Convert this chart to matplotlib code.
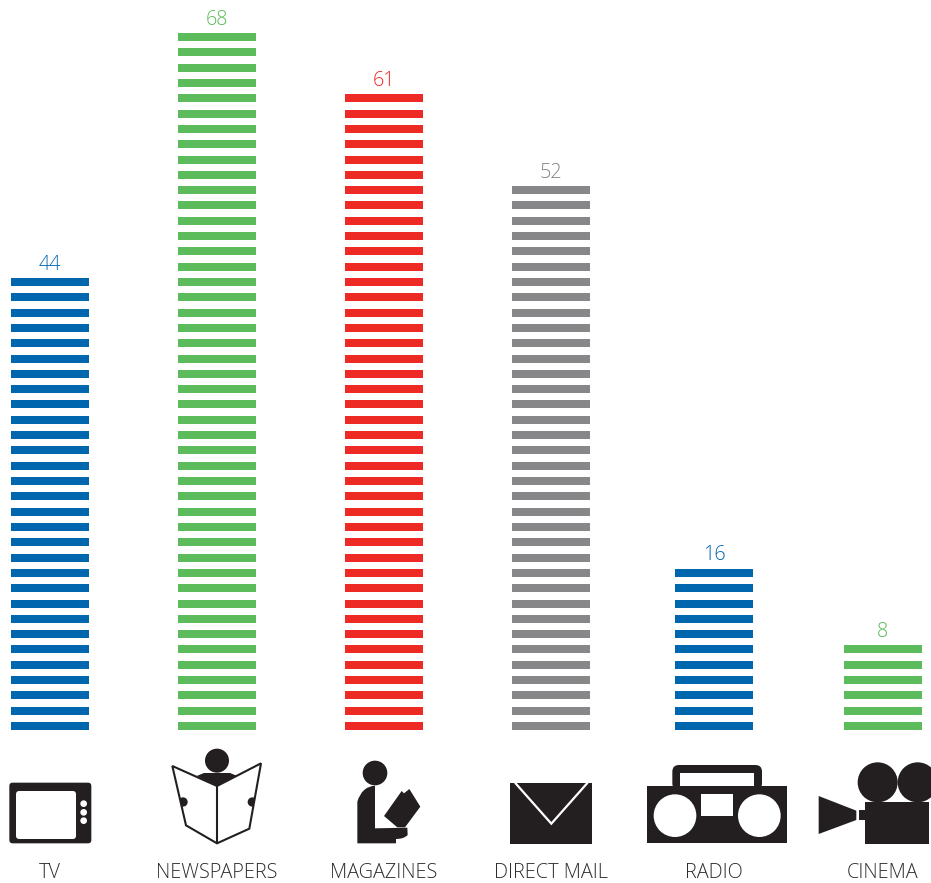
import matplotlib
matplotlib.use("Agg")
import matplotlib.pyplot as plt
from matplotlib.patches import Circle, Rectangle, Polygon, FancyBboxPatch, PathPatch
from matplotlib.path import Path

categories = ["TV", "NEWSPAPERS", "MAGAZINES", "DIRECT MAIL", "RADIO", "CINEMA"]
values = [44, 68, 61, 52, 16, 8]
stripe_counts = [30, 46, 42, 36, 11, 6]
colors = ["#0066AE", "#5CBB5A", "#EE2A24", "#87878A", "#0066AE", "#5CBB5A"]
centers = [50, 217, 384, 551, 714, 883]

W, H = 931, 883
BASE, PITCH, THICK, BW = 730, 15.31, 8, 78
INK = "#231F20"
FONT = ["Open Sans", "DejaVu Sans"]

fig = plt.figure(figsize=(W / 100, H / 100), dpi=100, facecolor="white")
ax = fig.add_axes([0, 0, 1, 1])
ax.set_xlim(0, W)
ax.set_ylim(H, 0)
ax.axis("off")

for cat, val, n, col, cx in zip(categories, values, stripe_counts, colors, centers):
    tops = [BASE - THICK - i * PITCH for i in range(n)]
    ax.bar([cx] * n, [THICK] * n, width=BW, bottom=tops, color=col, linewidth=0)
    ax.text(cx, tops[-1] - 13.5, str(val), color=col, ha="center", va="center",
            fontsize=14.2, family=FONT, fontweight=300)
    ax.text(cx, 872.5, cat, color="#2E2E2E", ha="center", va="center",
            fontsize=14.3, family=FONT, fontweight=300)


def Z(x0, pts):
    return [(x0 + x / 3, 740 + y / 3) for x, y in pts]


def add(p):
    ax.add_patch(p)
    return p


def poly(x0, pts, fc=INK, ec="none", lw=0, **kw):
    return add(Polygon(Z(x0, pts), closed=True, fc=fc, ec=ec, lw=lw, **kw))


def circ(x0, x, y, r, fc=INK):
    return add(Circle((x0 + x / 3, 740 + y / 3), r / 3, fc=fc, ec="none"))


def rect(x0, x1, y1, x2, y2, fc=INK):
    return add(Rectangle((x0 + x1 / 3, 740 + y1 / 3), (x2 - x1) / 3, (y2 - y1) / 3, fc=fc, ec="none"))


def rrect(x0, x1, y1, x2, y2, r, fc=INK):
    return add(FancyBboxPatch((x0 + (x1 + r) / 3, 740 + (y1 + r) / 3),
                              (x2 - x1 - 2 * r) / 3, (y2 - y1 - 2 * r) / 3,
                              boxstyle=f"round,pad={r / 3},rounding_size={r / 3}",
                              fc=fc, ec="none"))


# TV
rrect(0, 28, 128, 274, 310, 10)
rrect(0, 48, 153, 228, 297, 10, fc="white")
for y in (191, 217, 242):
    circ(0, 251, y, 10, fc="white")

# Newspaper reader
circ(0, 651, 62, 36)
poly(0, [(590, 108), (612, 99), (690, 99), (712, 108), (651, 138)])
outline = [(517, 78), (651, 138), (783, 70), (748, 266), (651, 310), (558, 256)]
book = poly(0, outline, fc="none", ec=INK, lw=1.5)
book.set_joinstyle("miter")
for hx in (549, 757):
    h = circ(0, hx, 186, 14)
    h.set_clip_path(Polygon(Z(0, outline), closed=True, transform=ax.transData))
ax.plot(*zip(*Z(0, [(651, 138), (651, 310)])), color=INK, lw=1.5, solid_capstyle="butt")

# Magazine reader
circ(320, 165, 99, 37)
body = [(165, 137), (125, 140), (112, 185), (112, 310), (228, 310), (228, 297),
        (252, 297), (263, 285), (262, 263), (165, 265)]
codes = [Path.MOVETO, Path.CURVE3, Path.CURVE3, Path.LINETO, Path.LINETO, Path.LINETO,
         Path.CURVE3, Path.CURVE3, Path.LINETO, Path.LINETO]
add(PathPatch(Path(Z(320, body), codes), fc=INK, ec="none"))
poly(320, [(192, 228), (245, 153), (252, 160), (268, 147), (301, 200), (255, 262), (232, 262)])

# Direct mail
rect(320, 570, 128, 816, 311)
ax.plot(*zip(*Z(320, [(585, 128), (694, 251), (803, 128)])), color="white", lw=1.6,
        solid_joinstyle="miter", solid_capstyle="butt")

# Radio
rrect(631, 124, 75, 393, 150, 20)
rect(631, 148, 98, 369, 140, fc="white")
rect(631, 48, 138, 467, 310)
circ(631, 132, 227, 64, fc="white")
circ(631, 385, 227, 64, fc="white")
rect(631, 210, 163, 306, 227, fc="white")

# Cinema
circ(631, 740, 127, 60)
circ(631, 860, 127, 60)
rect(631, 702, 186, 895, 311)
rect(631, 684, 210, 702, 240)
poly(631, [(563, 168), (676, 212), (676, 240), (563, 282)])

fig.savefig("out.png", dpi=100)
